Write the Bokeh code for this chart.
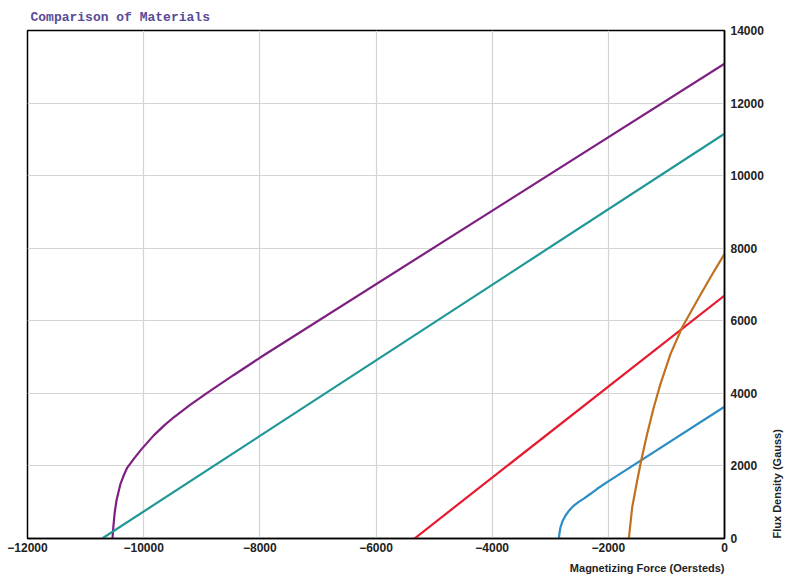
from bokeh.plotting import figure
from bokeh.models import Range1d, FixedTicker, LinearAxis, Title
from bokeh.embed import file_html
from bokeh.resources import INLINE
import math

# Data (Magnetizing force H in Oersteds, flux density B in Gauss)
purple_h = [-10537, -10522, -10500, -10468, -10430, -10399, -10340, -10284, -10170, -10040, -9826, -9650, -9481, -9200, -8906, -8448, -8000, 0]
purple_b = [0, 320, 700, 1047, 1300, 1507, 1750, 1948, 2196, 2456, 2842, 3110, 3341, 3681, 4013, 4507, 4980, 13086]

teal_h = [-10714, 0]
teal_b = [0, 11157]

red_h = [-5337, 0]
red_b = [0, 6694]

blue_h = [-2852, -2840, -2823, -2785, -2737, -2670, -2594, -2510, -2422, -2300, -2192, -1974, 0]
blue_b = [0, 160, 312, 490, 634, 780, 909, 1010, 1100, 1240, 1370, 1600, 3630]

orange_h = [-1647, -1589, -1503, -1434, -1331, -1217, -1102, -929, -728, -470, -241, 0]
orange_b = [0, 863, 1598, 2149, 2884, 3617, 4262, 5088, 5822, 6557, 7199, 7843]

x_ticks = [-12000, -10000, -8000, -6000, -4000, -2000, 0]
y_ticks = [0, 2000, 4000, 6000, 8000, 10000, 12000, 14000]

TICK_FONT = "Liberation Sans"

p = figure(width=793, height=583, output_backend="svg", toolbar_location=None,
           x_range=Range1d(-12000, 0), y_range=Range1d(0, 14000),
           y_axis_location="right",
           min_border_left=27, min_border_right=69, min_border_top=30, min_border_bottom=45,
           title="Comparison of Materials")

p.title.text_font = "Liberation Mono"
p.title.text_font_size = "13px"
p.title.text_font_style = "bold"
p.title.text_color = "#584c96"
p.title.align = "left"
p.title.offset = 3
p.title.standoff = 11

p.outline_line_color = "black"
p.outline_line_width = 1.5
p.background_fill_color = "white"
p.border_fill_color = "white"

p.xgrid.ticker = FixedTicker(ticks=x_ticks)
p.ygrid.ticker = FixedTicker(ticks=y_ticks)
p.grid.grid_line_color = "#d4d4d4"
p.grid.grid_line_width = 1.2

for ax in [p.xaxis[0], p.yaxis[0]]:
    ax.major_tick_line_color = None
    ax.minor_tick_line_color = None
    ax.major_tick_out = 0
    ax.major_tick_in = 0
    ax.axis_line_color = "black"
    ax.axis_line_width = 1.5
    ax.major_label_text_font = TICK_FONT
    ax.major_label_text_font_style = "bold"
    ax.major_label_text_font_size = "12px"
    ax.major_label_text_color = "#222222"
    ax.axis_label_text_font = TICK_FONT
    ax.axis_label_text_font_style = "bold"
    ax.axis_label_text_font_size = "11px"
    ax.axis_label_text_color = "#222222"

p.xaxis[0].ticker = FixedTicker(ticks=x_ticks)
p.yaxis[0].ticker = FixedTicker(ticks=y_ticks)
p.xaxis[0].major_label_standoff = 4
p.yaxis[0].major_label_standoff = 6

p.yaxis[0].axis_label = "Flux Density (Gauss)"
p.yaxis[0].axis_label_standoff = 10
p.yaxis[0].axis_label_orientation = math.pi / 2
props = LinearAxis.properties()
if "axis_label_align" in props:
    p.yaxis[0].axis_label_align = "start"

xlabel = Title(text="Magnetizing Force (Oersteds)", align="right",
               text_font=TICK_FONT, text_font_style="bold", text_font_size="11px",
               text_color="#222222", standoff=11)
p.add_layout(xlabel, "below")

lw = 2.2
p.line(purple_h, purple_b, line_color="#7e1f82", line_width=lw)
p.line(teal_h, teal_b, line_color="#1f9797", line_width=lw)
p.line(red_h, red_b, line_color="#e6192f", line_width=lw)
p.line(blue_h, blue_b, line_color="#2a8dc4", line_width=lw)
p.line(orange_h, orange_b, line_color="#c0701f", line_width=lw)

open("out.html", "w").write(file_html(p, INLINE))
